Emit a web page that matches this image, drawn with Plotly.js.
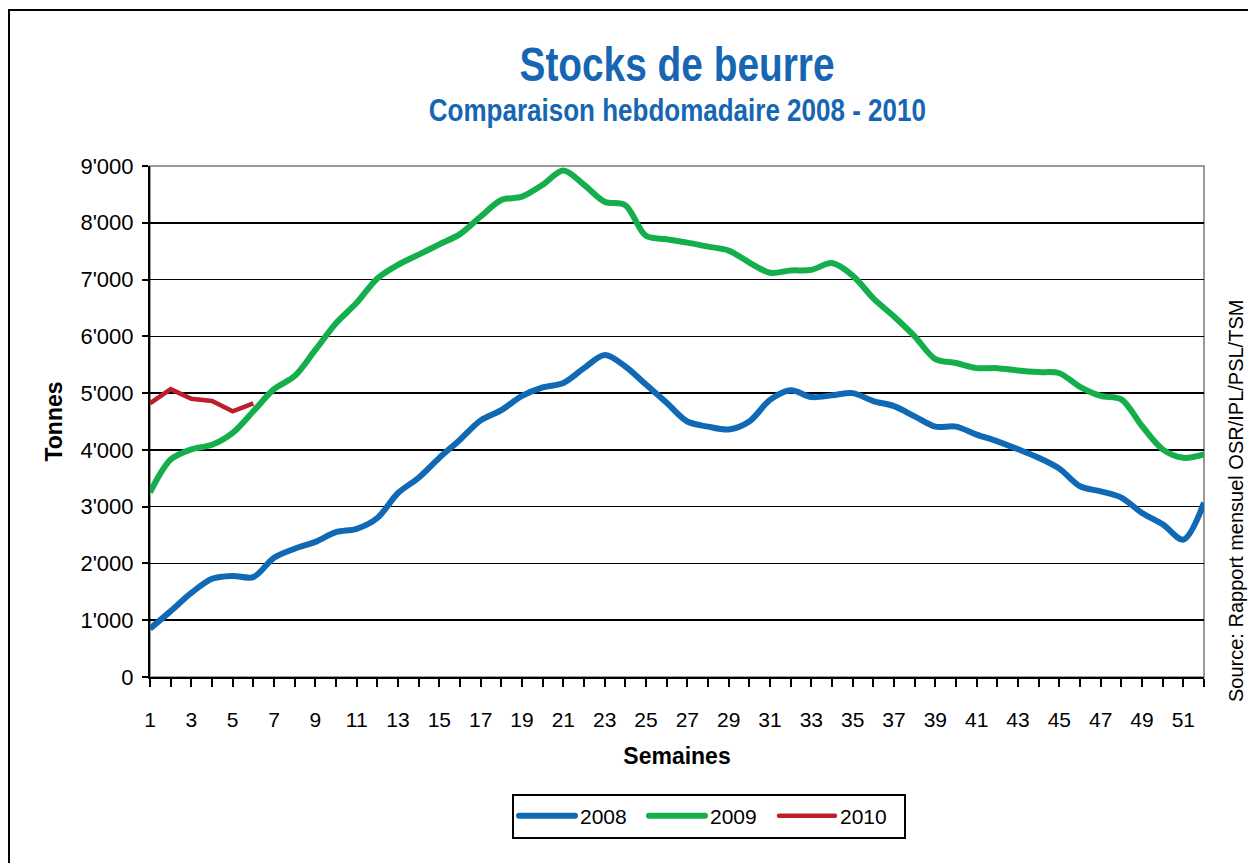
<!DOCTYPE html>
<html>
<head>
<meta charset="utf-8">
<script src="https://cdn.plot.ly/plotly-3.0.1.min.js"></script>
<style>
  html, body { margin: 0; padding: 0; background: #fff; }
  #chart { width: 1248px; height: 863px; }
</style>
</head>
<body>
<div id="chart"></div>
<script>
// ---- Data ----
const weeks = [1, 2, 3, 4, 5, 6, 7, 8, 9, 10, 11, 12, 13, 14, 15, 16, 17, 18, 19, 20,
  21, 22, 23, 24, 25, 26, 27, 28, 29, 30, 31, 32, 33, 34, 35, 36, 37, 38, 39, 40,
  41, 42, 43, 44, 45, 46, 47, 48, 49, 50, 51, 52];

const stocks2008 = [850, 1160, 1480, 1730, 1780, 1760, 2100, 2260, 2380, 2550,
  2610, 2800, 3240, 3510, 3860, 4180, 4520, 4700, 4950, 5100,
  5180, 5440, 5670, 5470, 5150, 4830, 4500, 4410, 4360, 4500,
  4880, 5050, 4930, 4960, 5000, 4860, 4770, 4590, 4410, 4410,
  4270, 4150, 4010, 3860, 3670, 3360, 3270, 3160, 2890, 2690,
  2420, 3070];

const stocks2009 = [3250, 3830, 4010, 4090, 4300, 4680, 5070, 5300, 5760, 6230,
  6590, 7020, 7260, 7440, 7620, 7800, 8110, 8400, 8460, 8670,
  8920, 8670, 8370, 8310, 7770, 7710, 7650, 7580, 7510, 7300,
  7120, 7160, 7170, 7290, 7070, 6670, 6350, 6000, 5600, 5530,
  5440, 5440, 5400, 5370, 5350, 5110, 4950, 4890, 4420, 4010,
  3860, 3920];

const weeks2010 = [1, 2, 3, 4, 5, 6];
const stocks2010 = [4820, 5070, 4900, 4860, 4680, 4820];

const seriesNames = ['2008', '2009', '2010'];
const seriesColors = ['#0F69B4', '#14AE4A', '#BD1F29'];

const titleText = 'Stocks de beurre';
const subtitleText = 'Comparaison hebdomadaire 2008 - 2010';
const xTitle = 'Semaines';
const yTitle = 'Tonnes';
const sourceText = 'Source: Rapport mensuel OSR/IPL/PSL/TSM';

// ---- Layout geometry (pixels) ----
const W = 1248, H = 863;
const M = { l: 150, r: 44, t: 166, b: 186 };
const PW = W - M.l - M.r, PH = H - M.t - M.b;
const px2x = px => (px - M.l) / PW;
const py2y = py => (H - M.b - py) / PH;

const baseFont = 'Liberation Sans, Arial, Helvetica, sans-serif';

const traces = [
  { x: weeks, y: stocks2008, name: seriesNames[0], type: 'scatter', mode: 'lines',
    line: { color: seriesColors[0], width: 6, shape: 'spline', smoothing: 0.9 } },
  { x: weeks, y: stocks2009, name: seriesNames[1], type: 'scatter', mode: 'lines',
    line: { color: seriesColors[1], width: 6, shape: 'spline', smoothing: 0.9 } },
  { x: weeks2010, y: stocks2010, name: seriesNames[2], type: 'scatter', mode: 'lines',
    line: { color: seriesColors[2], width: 4.5, shape: 'linear' } }
];

const layout = {
  width: W, height: H,
  margin: M,
  paper_bgcolor: '#fff',
  plot_bgcolor: '#fff',
  separators: ".'",
  font: { family: baseFont, color: '#000' },
  title: {
    text: titleText,
    font: { family: baseFont, size: 48, weight: 700, color: '#1666B4' },
    xref: 'paper', x: 0.5, xanchor: 'center',
    yref: 'container', y: 1 - 64 / H, yanchor: 'middle'
  },
  xaxis: {
    range: [1, 52],
    tickmode: 'linear', tick0: 1, dtick: 2,
    ticks: 'outside', ticklen: 8, tickwidth: 2, tickcolor: '#000',
    minor: { tickmode: 'linear', tick0: 1, dtick: 1, ticks: 'outside', ticklen: 8, tickwidth: 2, tickcolor: '#000', showgrid: false },
    showline: true, linecolor: '#000', linewidth: 2,
    showgrid: false, zeroline: false,
    tickfont: { size: 21, family: baseFont, color: '#000' },
    ticklabelstandoff: 15,
    title: { text: xTitle, font: { size: 23, family: baseFont, weight: 700, color: '#000' }, standoff: 18 },
    fixedrange: true
  },
  yaxis: {
    range: [0, 9000],
    tickmode: 'linear', tick0: 0, dtick: 1000,
    tickformat: ',d',
    ticks: 'outside', ticklen: 6, tickwidth: 2, tickcolor: '#000',
    showline: true, linecolor: '#000', linewidth: 2,
    showgrid: true, gridcolor: '#000', gridwidth: 1.6,
    zeroline: false,
    tickfont: { size: 22, family: baseFont, color: '#000' },
    ticklabelstandoff: 4,
    title: { text: yTitle, font: { size: 23, family: baseFont, weight: 700, color: '#000' }, standoff: 11 },
    fixedrange: true
  },
  showlegend: true,
  legend: {
    orientation: 'h',
    x: px2x(709), xanchor: 'center',
    y: py2y(816), yanchor: 'middle',
    bgcolor: '#fff', bordercolor: '#000', borderwidth: 2,
    font: { size: 21, family: baseFont, color: '#000' },
    itemwidth: 56,
    entrywidth: 59, entrywidthmode: 'pixels'
  },
  annotations: [
    { text: subtitleText, xref: 'paper', yref: 'paper',
      x: 0.5, xanchor: 'center', y: py2y(111), yanchor: 'middle', showarrow: false,
      font: { family: baseFont, size: 31, weight: 700, color: '#1666B4' } },
    { text: sourceText, xref: 'paper', yref: 'paper', textangle: -90,
      x: px2x(1236), xanchor: 'center', y: py2y(501), yanchor: 'middle', showarrow: false,
      font: { family: baseFont, size: 20, color: '#000' } }
  ],
  shapes: [
    // plot area border (gray top/right)
    { type: 'rect', xref: 'paper', yref: 'paper', x0: 0, x1: 1, y0: 0, y1: 1,
      line: { color: '#9a9a9a', width: 2 }, fillcolor: 'rgba(0,0,0,0)', layer: 'below' },
    // outer chart frame
    { type: 'rect', xref: 'paper', yref: 'paper', x0: px2x(9), x1: px2x(1280), y0: py2y(10), y1: py2y(900),
      line: { color: '#000', width: 2 }, fillcolor: 'rgba(0,0,0,0)', layer: 'below' }
  ]
};

Plotly.newPlot('chart', traces, layout, { displayModeBar: false, staticPlot: true }).then(gd => {
  // condensed look of the Excel title fonts (Arial Narrow bold)
  const t = gd.querySelector('.gtitle');
  if (t) { t.setAttribute('textLength', 315); t.setAttribute('lengthAdjust', 'spacingAndGlyphs'); }
  const sub = gd.querySelector('.annotation-text');
  if (sub) { sub.setAttribute('textLength', 497); sub.setAttribute('lengthAdjust', 'spacingAndGlyphs'); }
  // longer legend line samples with round caps, as in the reference
  gd.querySelectorAll('.legendlines path').forEach(p => {
    p.setAttribute('d', 'M5,0h56');
    p.style.strokeLinecap = 'round';
  });
});
</script>
</body>
</html>
